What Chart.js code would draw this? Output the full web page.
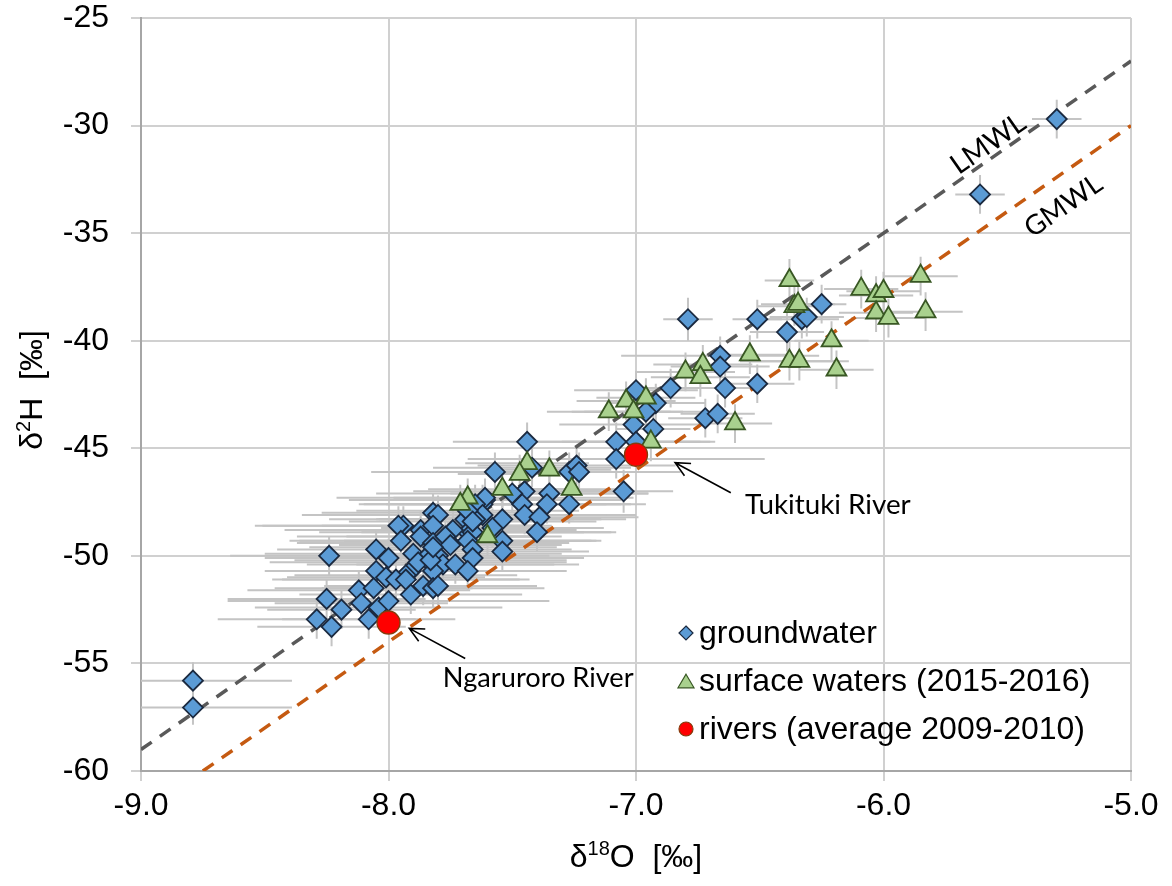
<!DOCTYPE html>
<html>
<head>
<meta charset="utf-8">
<script src="https://cdn.jsdelivr.net/npm/chart.js@4.4.0/dist/chart.umd.min.js"></script>
<style>
  html, body { margin: 0; padding: 0; background: #fff; }
  #wrap { width: 1172px; height: 886px; }
</style>
</head>
<body>
<div id="wrap"><canvas id="chart" width="1172" height="886"></canvas></div>
<script>
// [d18O, d2H, x error, y error]
const groundwater = [
  [-5.30, -29.7, 0.10, 0.9], [-5.61, -33.2, 0.10, 0.9], [-6.25, -38.3, 0.10, 0.9],
  [-6.33, -39.0, 0.15, 0.9], [-6.31, -38.9, 0.15, 0.9], [-6.39, -39.6, 0.15, 0.9],
  [-6.51, -39.0, 0.10, 0.9], [-6.79, -39.0, 0.10, 1.0], [-6.66, -40.7, 0.40, 0.9],
  [-6.66, -41.2, 0.20, 0.9], [-6.64, -42.2, 0.15, 0.9], [-6.51, -42.0, 0.15, 0.9],
  [-6.86, -42.2, 0.15, 0.9], [-7.00, -42.3, 0.25, 0.9], [-6.92, -42.9, 0.20, 0.9],
  [-6.96, -43.3, 0.30, 0.9], [-7.01, -43.9, 0.30, 0.9], [-6.93, -44.1, 0.15, 0.9],
  [-6.72, -43.6, 0.15, 0.9], [-6.67, -43.4, 0.15, 0.9], [-7.08, -44.7, 0.40, 0.9],
  [-7.00, -44.7, 0.30, 0.9], [-7.08, -45.5, 0.60, 0.9], [-7.05, -47.0, 0.20, 1.0],
  [-7.44, -44.7, 0.30, 0.9], [-7.57, -46.1, 0.50, 0.9], [-7.42, -45.9, 0.40, 0.9],
  [-7.27, -46.1, 0.45, 0.9], [-7.24, -45.8, 0.40, 0.9], [-7.23, -46.1, 0.30, 0.9],
  [-7.45, -47.0, 0.45, 0.9], [-7.35, -47.1, 0.40, 0.9], [-7.36, -47.6, 0.30, 0.9],
  [-7.27, -47.6, 0.25, 0.9], [-7.46, -47.6, 0.50, 0.9], [-7.45, -48.1, 0.45, 0.9],
  [-7.39, -48.2, 0.40, 0.9], [-7.40, -48.9, 0.30, 0.9], [-7.54, -48.3, 0.50, 0.9],
  [-7.61, -47.4, 0.55, 0.9], [-7.62, -47.6, 0.50, 0.9], [-7.50, -47.1, 0.55, 0.9],
  [-7.61, -47.3, 0.60, 0.9], [-7.65, -47.6, 0.45, 0.9], [-7.69, -48.3, 0.55, 0.9],
  [-7.62, -48.1, 0.50, 0.9], [-7.65, -48.3, 0.40, 0.9], [-7.58, -48.7, 0.45, 0.9],
  [-7.54, -49.3, 0.40, 0.9], [-7.54, -49.8, 0.35, 0.9], [-7.68, -48.9, 0.60, 0.9],
  [-7.66, -48.9, 0.45, 0.9], [-7.82, -48.0, 0.45, 0.9], [-7.80, -48.1, 0.55, 0.9],
  [-7.94, -48.6, 0.60, 0.9], [-7.87, -48.8, 0.55, 0.9], [-7.82, -48.6, 0.45, 0.9],
  [-7.74, -48.8, 0.50, 0.9], [-7.76, -49.3, 0.60, 0.9], [-7.87, -49.1, 0.50, 0.9],
  [-7.82, -49.4, 0.55, 0.9], [-7.77, -49.1, 0.40, 0.9], [-7.75, -49.5, 0.45, 0.9],
  [-7.68, -49.3, 0.50, 0.9], [-7.66, -49.7, 0.40, 0.9], [-7.90, -49.9, 0.60, 0.9],
  [-7.85, -50.1, 0.50, 0.9], [-7.80, -50.0, 0.45, 0.9], [-7.78, -50.4, 0.55, 0.9],
  [-7.73, -50.4, 0.40, 0.9], [-7.66, -50.1, 0.45, 0.9], [-7.68, -50.7, 0.40, 0.9],
  [-7.82, -50.7, 0.50, 0.9], [-7.91, -50.7, 0.55, 0.9], [-7.93, -50.9, 0.45, 0.9],
  [-7.96, -48.6, 0.55, 0.9], [-7.95, -49.3, 0.45, 0.9], [-8.24, -50.0, 0.40, 0.9],
  [-8.05, -49.7, 0.40, 0.9], [-8.00, -50.1, 0.50, 0.9], [-8.05, -50.7, 0.45, 0.9],
  [-8.01, -51.0, 0.40, 0.9], [-7.97, -51.1, 0.50, 0.9], [-8.25, -52.0, 0.40, 0.9],
  [-8.12, -51.6, 0.45, 0.9], [-8.06, -51.5, 0.40, 0.9], [-8.11, -52.2, 0.35, 0.9],
  [-8.19, -52.5, 0.30, 0.9], [-8.29, -52.95, 0.40, 0.9], [-8.23, -53.3, 0.30, 0.9],
  [-8.08, -52.95, 0.35, 0.9], [-8.04, -52.4, 0.50, 0.9], [-8.00, -52.1, 0.65, 0.9],
  [-7.93, -51.1, 0.50, 0.9], [-7.91, -51.8, 0.45, 0.9], [-7.86, -51.4, 0.40, 0.9],
  [-7.82, -51.5, 0.45, 0.9], [-7.88, -50.3, 0.60, 0.9], [-7.83, -50.2, 0.55, 0.9],
  [-7.80, -51.4, 0.40, 0.9], [-7.82, -49.6, 0.50, 0.9], [-7.68, -47.9, 0.45, 0.9],
  [-7.66, -48.4, 0.50, 0.9], [-8.79, -55.8, 0.40, 0.85], [-8.79, -57.05, 0.40, 0.8]
];

const surfaceWaters = [
  [-5.85, -37.0, 0.15, 0.9], [-6.09, -37.6, 0.15, 0.9], [-6.03, -37.9, 0.15, 0.9],
  [-6.00, -37.7, 0.15, 0.9], [-6.03, -38.7, 0.15, 0.9], [-5.98, -38.95, 0.15, 0.9],
  [-5.83, -38.65, 0.15, 0.9], [-6.21, -40.0, 0.15, 0.9], [-6.38, -37.2, 0.10, 1.0],
  [-6.36, -38.4, 0.15, 0.9], [-6.345, -38.3, 0.15, 0.9], [-6.19, -41.35, 0.15, 0.9],
  [-6.38, -40.95, 0.20, 0.9], [-6.34, -40.95, 0.20, 0.9], [-6.54, -40.65, 0.15, 0.9],
  [-6.73, -41.1, 0.20, 0.9], [-6.80, -41.45, 0.20, 0.9], [-6.74, -41.7, 0.20, 0.9],
  [-6.60, -43.85, 0.15, 0.9], [-6.96, -42.65, 0.20, 0.9], [-7.04, -42.8, 0.20, 0.9],
  [-7.01, -43.3, 0.20, 0.9], [-7.11, -43.3, 0.25, 0.9], [-6.94, -44.7, 0.20, 0.9],
  [-7.44, -45.7, 0.25, 0.9], [-7.47, -46.2, 0.25, 0.9], [-7.35, -46.0, 0.25, 0.9],
  [-7.54, -46.9, 0.30, 0.9], [-7.26, -46.9, 0.20, 0.9], [-7.68, -47.3, 0.30, 0.9],
  [-7.71, -47.6, 0.30, 0.9], [-7.60, -49.1, 0.30, 0.9]
];

const rivers = [[-8.00, -53.1], [-7.00, -45.3]];

// meteoric water lines, end points
const lmwlX = [-9.0, -5.0], lmwlY = [-59.0, -27.0];
const gmwlX = [-8.75, -5.0], gmwlY = [-60.0, -30.0];

const xMin = -9, xMax = -5, xStep = 1;
const yMin = -60, yMax = -25, yStep = 5;

const legendLabels = ['groundwater', 'surface waters (2015-2016)', 'rivers (average 2009-2010)'];

const FONT = "'Liberation Sans', Arial, sans-serif";
const NOTE_FONT = "Lato, 'Open Sans', sans-serif";

const colors = {
  gwFill: '#5b9bd5', gwLine: '#1b2a40',
  swFill: '#a9d18e', swLine: '#385723',
  rvFill: '#ff0000', rvLine: '#843c0c',
  lmwl: '#595959', gmwl: '#c55a11',
  err: '#c4c4c4', grid: '#d0d0d0', axis: '#a6a6a6'
};

const toXY = arr => arr.map(p => ({ x: p[0], y: p[1] }));

// error bars under all markers
const errorBars = {
  id: 'errorBars',
  beforeDatasetsDraw(chart) {
    const { ctx, chartArea: a, scales: { x, y } } = chart;
    ctx.save();
    ctx.beginPath();
    ctx.rect(a.left, a.top, a.width, a.height);
    ctx.clip();
    ctx.strokeStyle = colors.err;
    ctx.lineWidth = 2;
    [groundwater, surfaceWaters].forEach(set => set.forEach(([px, py, ex, ey]) => {
      const cx = x.getPixelForValue(px), cy = y.getPixelForValue(py);
      ctx.beginPath();
      ctx.moveTo(x.getPixelForValue(px - ex), cy);
      ctx.lineTo(x.getPixelForValue(px + ex), cy);
      ctx.moveTo(cx, y.getPixelForValue(py - ey));
      ctx.lineTo(cx, y.getPixelForValue(py + ey));
      ctx.stroke();
    }));
    ctx.restore();
  }
};

function drawMarker(ctx, kind, x, y, r) {
  ctx.beginPath();
  if (kind === 'diamond') {
    ctx.moveTo(x, y - r); ctx.lineTo(x + r, y); ctx.lineTo(x, y + r); ctx.lineTo(x - r, y);
  } else if (kind === 'triangle') {
    const h = r * 1.7;
    ctx.moveTo(x, y - h / 2); ctx.lineTo(x + r, y + h / 2); ctx.lineTo(x - r, y + h / 2);
  } else {
    ctx.arc(x, y, r, 0, Math.PI * 2);
  }
  ctx.closePath();
  ctx.fill();
  ctx.stroke();
}

// text with one superscript part
function drawSup(ctx, parts, cx, cy, size) {
  const widths = parts.map(p => {
    ctx.font = (p.sup ? Math.round(size * 0.62) : size) + 'px ' + FONT;
    return ctx.measureText(p.t).width;
  });
  let x = cx - widths.reduce((s, w) => s + w, 0) / 2;
  ctx.textBaseline = 'alphabetic';
  ctx.textAlign = 'left';
  parts.forEach((p, i) => {
    ctx.font = (p.sup ? Math.round(size * 0.62) : size) + 'px ' + FONT;
    ctx.fillText(p.t, x, cy + size * 0.36 - (p.sup ? size * 0.36 : 0));
    x += widths[i];
  });
}

function fitText(ctx, text, width, family) {
  let size = 20;
  ctx.font = size + 'px ' + family;
  size = size * width / ctx.measureText(text).width;
  ctx.font = size.toFixed(1) + 'px ' + family;
}

function arrow(ctx, x1, y1, x2, y2) {
  const ang = Math.atan2(y2 - y1, x2 - x1);
  const len = 16;
  ctx.beginPath();
  ctx.moveTo(x1, y1);
  ctx.lineTo(x2, y2);
  ctx.moveTo(x2 - len * Math.cos(ang - 0.45), y2 - len * Math.sin(ang - 0.45));
  ctx.lineTo(x2, y2);
  ctx.lineTo(x2 - len * Math.cos(ang + 0.45), y2 - len * Math.sin(ang + 0.45));
  ctx.stroke();
}

const extras = {
  id: 'extras',
  afterDraw(chart) {
    const { ctx, scales: { x, y } } = chart;
    ctx.save();
    ctx.fillStyle = '#000';

    // axis titles
    drawSup(ctx, [{ t: 'δ' }, { t: '18', sup: true }, { t: 'O  [‰]' }], 636, 855, 32);
    ctx.save();
    ctx.translate(30, 390);
    ctx.rotate(-Math.PI / 2);
    drawSup(ctx, [{ t: 'δ' }, { t: '2', sup: true }, { t: 'H  [‰]' }], 0, 0, 32);
    ctx.restore();

    // line labels, rotated along the lines
    const ang = Math.atan2(y.getPixelForValue(lmwlY[1]) - y.getPixelForValue(lmwlY[0]),
                           x.getPixelForValue(lmwlX[1]) - x.getPixelForValue(lmwlX[0]));
    [['LMWL', -5.577, -30.85, 84], ['GMWL', -5.273, -33.73, 88]].forEach(([t, vx, vy, w]) => {
      ctx.save();
      ctx.translate(x.getPixelForValue(vx), y.getPixelForValue(vy));
      ctx.rotate(ang);
      fitText(ctx, t, w, NOTE_FONT);
      ctx.textAlign = 'center';
      ctx.textBaseline = 'middle';
      ctx.fillText(t, 0, 0);
      ctx.restore();
    });

    // river notes and arrows
    ctx.strokeStyle = '#000';
    ctx.lineWidth = 1.6;
    [['Tukituki River', -6.225, -47.64, 166, [-6.617, -47.07, -6.842, -45.67]],
     ['Ngaruroro River', -7.395, -55.70, 191, [-7.69, -54.77, -7.916, -53.37]]].forEach(([t, vx, vy, w, a]) => {
      fitText(ctx, t, w, NOTE_FONT);
      ctx.textAlign = 'center';
      ctx.textBaseline = 'middle';
      ctx.fillText(t, x.getPixelForValue(vx), y.getPixelForValue(vy));
      arrow(ctx, x.getPixelForValue(a[0]), y.getPixelForValue(a[1]),
                 x.getPixelForValue(a[2]), y.getPixelForValue(a[3]));
    });

    // legend, inside the plot
    const kinds = [['diamond', colors.gwFill, colors.gwLine, 7],
                   ['triangle', colors.swFill, colors.swLine, 8],
                   ['circle', colors.rvFill, colors.rvLine, 7]];
    ctx.font = '32px ' + FONT;
    ctx.textAlign = 'left';
    ctx.textBaseline = 'middle';
    legendLabels.forEach((label, i) => {
      const ly = 633 + i * 48;
      const [k, f, s, r] = kinds[i];
      ctx.fillStyle = f;
      ctx.strokeStyle = s;
      ctx.lineWidth = 1.2;
      drawMarker(ctx, k, 686, ly, r);
      ctx.fillStyle = '#000';
      ctx.fillText(label, 699, ly + 1);
    });
    ctx.restore();
  }
};

const ctx = document.getElementById('chart').getContext('2d');
new Chart(ctx, {
  type: 'scatter',
  data: {
    datasets: [
      {
        label: 'rivers (average 2009-2010)',
        data: toXY(rivers),
        pointStyle: 'circle',
        pointRadius: 11.5,
        backgroundColor: colors.rvFill,
        borderColor: colors.rvLine,
        borderWidth: 1.4,
        order: 1
      },
      {
        label: 'surface waters (2015-2016)',
        data: toXY(surfaceWaters),
        pointStyle: 'triangle',
        pointRadius: 11.5,
        backgroundColor: colors.swFill,
        borderColor: colors.swLine,
        borderWidth: 1.8,
        order: 2
      },
      {
        label: 'groundwater',
        data: toXY(groundwater),
        pointStyle: 'rectRot',
        pointRadius: 10,
        backgroundColor: colors.gwFill,
        borderColor: colors.gwLine,
        borderWidth: 1.8,
        order: 3
      },
      {
        type: 'line',
        label: 'LMWL',
        data: lmwlX.map((v, i) => ({ x: v, y: lmwlY[i] })),
        borderColor: colors.lmwl,
        borderWidth: 3.5,
        borderDash: [13, 10],
        pointRadius: 0,
        fill: false,
        order: 4
      },
      {
        type: 'line',
        label: 'GMWL',
        data: gmwlX.map((v, i) => ({ x: v, y: gmwlY[i] })),
        borderColor: colors.gmwl,
        borderWidth: 3.5,
        borderDash: [13, 10],
        pointRadius: 0,
        fill: false,
        order: 4
      }
    ]
  },
  options: {
    responsive: false,
    animation: false,
    layout: { padding: { top: 18, right: 41, left: 0, bottom: 0 } },
    plugins: {
      legend: { display: false },
      tooltip: { enabled: false }
    },
    scales: {
      x: {
        type: 'linear',
        min: xMin,
        max: xMax,
        afterFit: s => { s.height = 115; s.paddingLeft = 0; s.paddingRight = 0; },
        ticks: {
          stepSize: xStep,
          color: '#000',
          padding: 6,
          font: { family: FONT, size: 32 },
          callback: v => v.toFixed(1)
        },
        grid: { color: colors.grid, lineWidth: 2, tickLength: 10, tickColor: colors.grid },
        border: { color: colors.axis, width: 2 }
      },
      y: {
        min: yMin,
        max: yMax,
        afterFit: s => { s.width = 141; s.paddingTop = 0; s.paddingBottom = 0; },
        ticks: {
          stepSize: yStep,
          color: '#000',
          padding: 22,
          font: { family: FONT, size: 32 }
        },
        grid: { color: colors.grid, lineWidth: 2, tickLength: 10, tickColor: colors.grid },
        border: { color: colors.axis, width: 2 }
      }
    }
  },
  plugins: [errorBars, extras]
});
</script>
</body>
</html>
